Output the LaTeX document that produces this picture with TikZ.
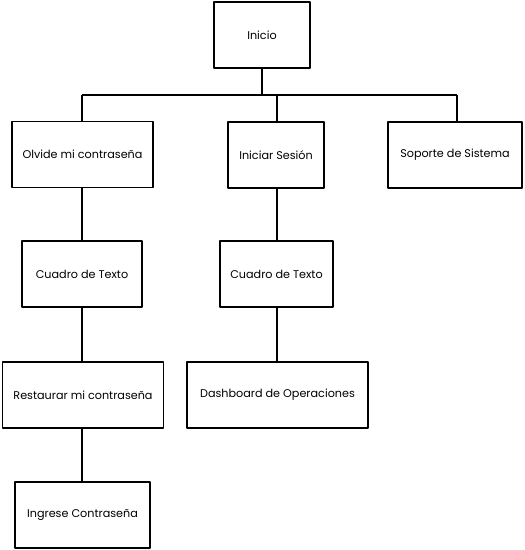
\documentclass[tikz,border=0pt]{standalone}
\usepackage{fontspec}
\setmainfont{Poppins}
\begin{document}
\begin{tikzpicture}[x=1pt,y=-1pt,
  box/.style={draw=black,line width=1.8pt,fill=white,minimum height=66pt,inner sep=0pt,font=\fontsize{11.2}{13}\selectfont,line join=round},
  link/.style={draw=black,line width=2pt}]
\useasboundingbox (0,0) rectangle (525,550);
\coordinate (bl) at (82,95);
\coordinate (br) at (457,95);
\coordinate (bm) at (277,95);
\draw[link] (262,35) -- (262,95);
\draw[link] (bl) -- (br);
\draw[link] (bl) -- (82,515);
\draw[link] (bm) -- (277,395);
\draw[link] (br) -- (457,155);
\node[box,minimum width=96pt] (inicio) at (262,35) {Inicio};
\node[box,minimum width=141pt] (olvide) at (82.5,154.5) {Olvide mi contraseña};
\node[box,minimum width=96pt] (iniciar) at (276,155) {Iniciar Sesión};
\node[box,minimum width=134pt] (soporte) at (455,155) {Soporte de Sistema};
\node[box,minimum width=120pt] (cuadroL) at (82,274) {Cuadro de Texto};
\node[box,minimum width=113pt] (cuadroM) at (276.5,274) {Cuadro de Texto};
\node[box,minimum width=161pt] (restaurar) at (83,395) {Restaurar mi contraseña};
\node[box,minimum width=181pt] (dash) at (277.5,395) {Dashboard de Operaciones};
\node[box,minimum width=135pt] (ingrese) at (82.5,515) {Ingrese Contraseña};
\end{tikzpicture}
\end{document}
